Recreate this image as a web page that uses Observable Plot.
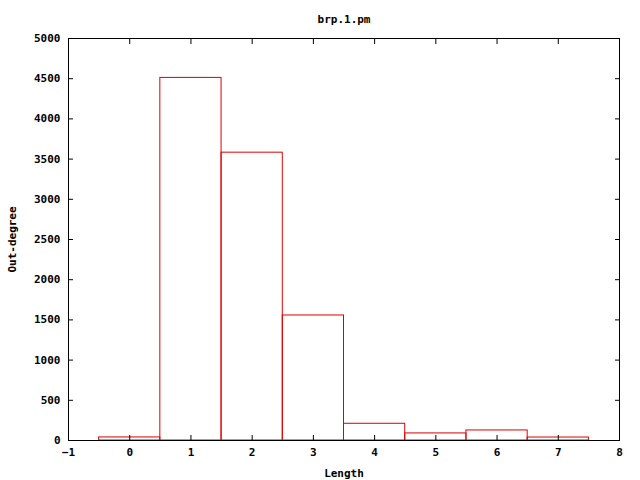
<!DOCTYPE html>
<html><head><meta charset="utf-8">
<script src="https://cdn.jsdelivr.net/npm/d3@7"></script>
<script src="https://cdn.jsdelivr.net/npm/@observablehq/plot@0.6"></script>
<style>body{margin:0;background:#fff}</style>
</head><body><div id="chart"></div>
<script>
const lengths = [0, 1, 2, 3, 4, 5, 6, 7];
const outDegree = [38, 4510, 3580, 1555, 208, 88, 125, 37];
const xTicks = [-1, 0, 1, 2, 3, 4, 5, 6, 7, 8];
const yTicks = [0, 500, 1000, 1500, 2000, 2500, 3000, 3500, 4000, 4500, 5000];
const title = "brp.1.pm";
const xLabel = "Length";
const yLabel = "Out-degree";

const data = lengths.map((l, i) => ({length: l, value: outDegree[i]}));
const font = "'DejaVu Sans Mono', 'Liberation Mono', monospace";
const fmt = d3.format("d");

const chart = Plot.plot({
  width: 640, height: 480,
  marginLeft: 68, marginRight: 21, marginTop: 38, marginBottom: 40,
  style: {fontFamily: font, fontSize: "11px", fontWeight: "bold", color: "#000", background: "#fff"},
  x: {domain: [-1, 8]},
  y: {domain: [0, 5000]},
  marks: [
    Plot.rect(data, {x1: d => d.length - 0.5, x2: d => d.length + 0.5, y1: 0, y2: "value", fill: "none", stroke: "#dd0000"}),
    Plot.frame({stroke: "#000"}),
    Plot.axisX({ticks: xTicks, tickSize: -5, tickPadding: 13, tickFormat: fmt, label: xLabel, labelAnchor: "center", labelArrow: "none", labelOffset: 36}),
    Plot.axisX({anchor: "top", ticks: xTicks, tickSize: -5, tickFormat: () => "", label: null}),
    Plot.axisY({ticks: yTicks, tickSize: -5, tickPadding: 13, tickFormat: fmt, label: yLabel, labelAnchor: "center", labelArrow: "none", labelOffset: 60}),
    Plot.axisY({anchor: "right", ticks: yTicks, tickSize: -5, tickFormat: () => "", label: null}),
    Plot.text([title], {frameAnchor: "top", dy: -23, text: d => d})
  ]
});
document.getElementById("chart").append(chart);
</script>
</body></html>
